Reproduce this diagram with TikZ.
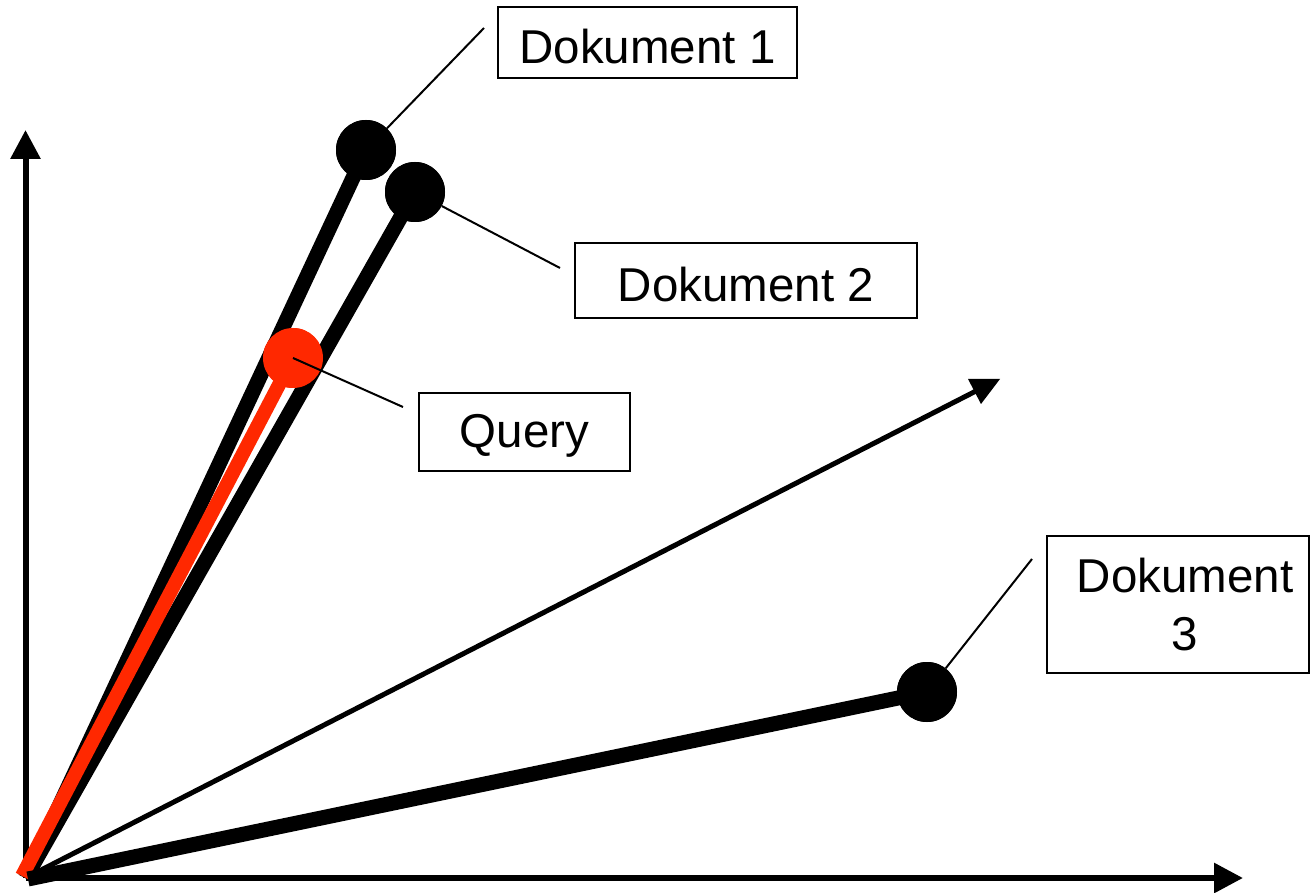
\documentclass[tikz,border=0pt]{standalone}
\usepackage{fontspec}
\setmainfont{Liberation Sans}
\usetikzlibrary{arrows.meta}
\definecolor{qred}{RGB}{255,40,0}
\tikzset{
  dot/.style={circle, fill=#1, draw=none, minimum size=60pt, inner sep=0pt},
  vec/.style={line width=15pt, line cap=butt},
  axis/.style={line width=6pt, -{Triangle[length=29pt,width=29pt]}},
  leader/.style={line width=2pt},
  lbl/.style={draw, line width=2pt, inner sep=0pt, align=center, font=\fontsize{47.5}{58}\selectfont}
}
\newcommand{\lowr}[1]{\raisebox{-4pt}[\height][\depth]{#1}}
\begin{document}
\begin{tikzpicture}[x=1pt,y=-1pt]
\useasboundingbox (0,0) rectangle (1310,893);
\coordinate (O) at (25.5,878);
\coordinate (ytop) at (25.5,130);
\coordinate (xend) at (1243,878);
\coordinate (diag) at (976,391);
% axes
\draw[axis] (O) -- (ytop);
\draw[axis] (O) -- (xend);
% diagonal arrow
\draw[line width=5pt] (O) -- (diag);
\fill (968,379) -- (1000,379) -- (981,404) -- cycle;
% dots
\node[dot=black] (d1) at (366,150) {};
\node[dot=black] (d2) at (415,192) {};
\node[dot=qred] (q) at (293,358) {};
\node[dot=black] (d3) at (927,692) {};
% vectors
\draw[vec] (O) -- (d1.center);
\draw[vec] (O) -- (d2.center);
\draw[vec, qred, line width=14pt] (22,876) -- (q.center);
\draw[vec] (28,879) -- (d3.center);
% redraw dots on top
\node[dot=black] at (d1) {};
\node[dot=black] at (d2) {};
\node[dot=qred] at (q) {};
\node[dot=black] at (d3) {};
% labels
\node[lbl, minimum width=299pt, minimum height=71pt] (b1) at (647.5,43) {\lowr{Dokument 1}};
\node[lbl, minimum width=342pt, minimum height=75pt] (b2) at (746,281) {\lowr{Dokument 2}};
\node[lbl, minimum width=211pt, minimum height=78pt] (bq) at (524.5,432) {\lowr{Query}};
\node[lbl, minimum width=262pt, minimum height=137pt] (b3) at (1178,604.5) {\hspace*{14pt}Dokument\\\hspace*{14pt}3};
% leader ends
\coordinate (e1) at (484,28);
\coordinate (e2) at (560,268);
\coordinate (eq) at (403,407);
\coordinate (e3) at (1032,559);
\draw[leader] (d1) -- (e1);
\draw[leader] (d2) -- (e2);
\draw[leader] (q.center) -- (eq);
\draw[leader] (d3) -- (e3);
\end{tikzpicture}
\end{document}
